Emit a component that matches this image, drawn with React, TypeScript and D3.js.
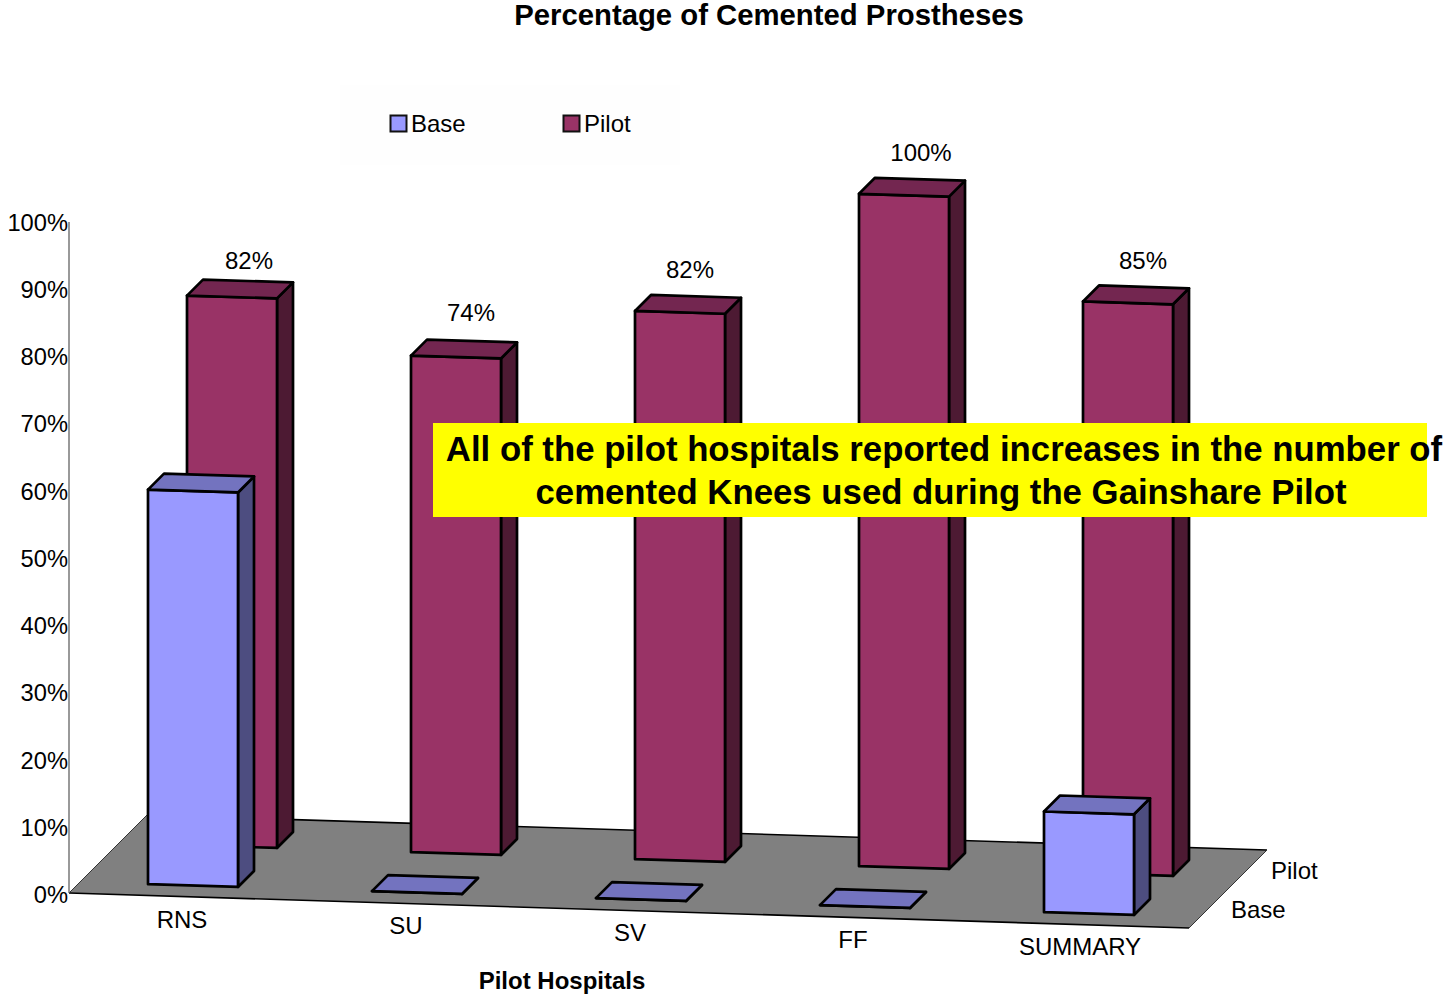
import React from "react";
import * as d3 from "d3";

const categories = ["RNS", "SU", "SV", "FF", "SUMMARY"];
const baseValues = [58.8, 0, 0, 0, 15];
const pilotValues = [81.9, 74, 81.7, 100.2, 85.2];
const pilotLabels = ["82%", "74%", "82%", "100%", "85%"];
const axisTicks = [0, 10, 20, 30, 40, 50, 60, 70, 80, 90, 100];
const seriesNames = ["Base", "Pilot"];

const FONT = "'Liberation Sans', Arial, sans-serif";
const palette: Record<string, { front: string; side: string; top: string }> = {
  Base: { front: "#9999ff", side: "#4d4d80", top: "#7373bf" },
  Pilot: { front: "#993366", side: "#4d1a33", top: "#732650" },
};

// scales: along the categories, into the depth of the floor, up the value axis
const catScale = d3.scaleLinear().domain([0, 4]).range([79, 975]);
const depthScale = d3.scaleOrdinal<string, number>().domain(seriesNames).range([10, 49]);
const valueScale = d3.scaleLinear().domain([0, 100]).range([0, 671]);
const tickLabelY = d3.scaleLinear().domain([0, 100]).range([903, 230.5]);
const BAR_W = 90;
const BAR_D = 16;
const FLOOR_W = 1120;
const FLOOR_D = 78;

const project = (u: number, d: number, v: number): [number, number] => [
  69 + u + d,
  893 + u * 0.03125 - d - valueScale(v),
];
const barPoint = (u: number, d: number, v: number): [number, number] => {
  const [x, y] = project(u, d, v);
  return [x, y - 1];
};
const poly = (pts: [number, number][]) => (d3.line()(pts) as string) + "Z";

function Box({ series, i, value }: { series: string; i: number; value: number }) {
  const u0 = catScale(i) - 10;
  const u1 = u0 + BAR_W;
  const d0 = depthScale(series);
  const d1 = d0 + BAR_D;
  const c = palette[series];
  const common = { stroke: "#000", strokeWidth: 2.7, strokeLinejoin: "round" as const };
  return (
    <g>
      <path d={poly([barPoint(u1, d0, 0), barPoint(u1, d1, 0), barPoint(u1, d1, value), barPoint(u1, d0, value)])} fill={c.side} {...common} />
      <path d={poly([barPoint(u0, d0, 0), barPoint(u1, d0, 0), barPoint(u1, d0, value), barPoint(u0, d0, value)])} fill={c.front} {...common} />
      <path d={poly([barPoint(u0, d0, value), barPoint(u1, d0, value), barPoint(u1, d1, value), barPoint(u0, d1, value)])} fill={c.top} {...common} />
    </g>
  );
}

export default function App() {
  const floor: [number, number][] = [
    project(0, 0, 0),
    project(FLOOR_W, 0, 0),
    project(FLOOR_W, FLOOR_D, 0),
    project(0, FLOOR_D, 0),
  ];
  const labelNudge = [62, 60, 55, 62, 60];
  const labelLift = [28, 36, 34, 34, 33];
  return (
    <svg width={1447} height={994} style={{ position: "absolute", left: 0, top: 0, display: "block" }} fontFamily={FONT} fill="#000">
      <rect width={1447} height={994} fill="#fff" />
      <text x={769} y={25} fontSize={29.3} fontWeight="bold" textAnchor="middle">Percentage of Cemented Prostheses</text>

      <rect x={340} y={85} width={340} height={80} fill="#fefefe" />
      {seriesNames.map((s, k) => (
        <g key={s}>
          <rect x={k === 0 ? 390.5 : 563.5} y={115.5} width={16} height={16} fill={palette[s].front} stroke="#111" strokeWidth={2} />
          <text x={k === 0 ? 411 : 584} y={132} fontSize={24}>{s}</text>
        </g>
      ))}

      <path d={poly(floor)} fill="#808080" />
      <line x1={floor[0][0]} y1={floor[0][1]} x2={floor[1][0]} y2={floor[1][1]} stroke="#000" strokeWidth={1.6} />
      <line x1={floor[3][0]} y1={floor[3][1]} x2={floor[2][0]} y2={floor[2][1]} stroke="#000" strokeWidth={1.6} />
      <line x1={floor[0][0]} y1={floor[0][1]} x2={floor[3][0]} y2={floor[3][1]} stroke="#333" strokeWidth={1} />
      <line x1={floor[1][0]} y1={floor[1][1]} x2={floor[2][0]} y2={floor[2][1]} stroke="#333" strokeWidth={1} />
      <line x1={69} y1={893} x2={69} y2={893 - valueScale(100)} stroke="#555" strokeWidth={1.2} />

      {axisTicks.map((t) => (
        <text key={t} x={68} y={tickLabelY(t)} fontSize={23.7} textAnchor="end">{t}%</text>
      ))}

      {pilotValues.map((v, i) => <Box key={i} series="Pilot" i={i} value={v} />)}
      {baseValues.map((v, i) => <Box key={i} series="Base" i={i} value={v} />)}

      {pilotValues.map((v, i) => {
        const [x, y] = project(catScale(i) - 10, depthScale("Pilot"), v);
        return <text key={i} x={x + labelNudge[i]} y={y - labelLift[i]} fontSize={24} textAnchor="middle">{pilotLabels[i]}</text>;
      })}

      {categories.map((c, i) => (
        <text key={c} x={182 + i * 224 - (i === 3 ? 1 : 0) + (i === 4 ? 2 : 0)} y={927.5 + i * 6.75} fontSize={24} textAnchor="middle">{c}</text>
      ))}

      <text x={1231} y={918} fontSize={24}>Base</text>
      <text x={1271} y={879} fontSize={24}>Pilot</text>
      <text x={562} y={989} fontSize={24} fontWeight="bold" textAnchor="middle">Pilot Hospitals</text>

      <rect x={433} y={423} width={994} height={94} fill="#ffff00" />
      <text x={944} y={460.5} fontSize={34.75} fontWeight="bold" textAnchor="middle">All of the pilot hospitals reported increases in the number of</text>
      <text x={941} y={503.5} fontSize={34.75} fontWeight="bold" textAnchor="middle">cemented Knees used during the Gainshare Pilot</text>
    </svg>
  );
}
